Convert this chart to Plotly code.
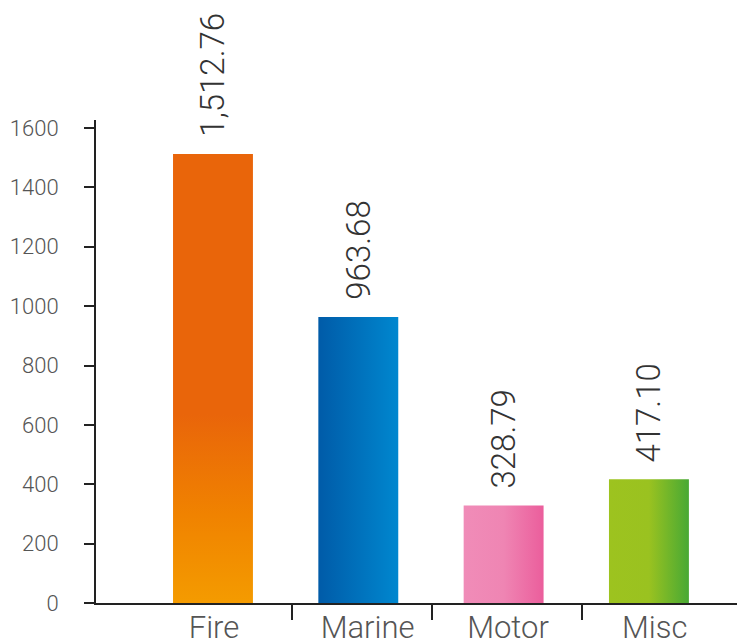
import plotly.graph_objects as go

# Premium by line of business
categories = ["Fire", "Marine", "Motor", "Misc"]
values = [1512.76, 963.68, 328.79, 417.10]
value_labels = ["1,512.76", "963.68", "328.79", "417.10"]
y_ticks = [0, 200, 400, 600, 800, 1000, 1200, 1400, 1600]

# Gradient fills per bar: (direction, colour stops)
gradients = [
    ("vertical", [[0, "#F49B00"], [0.2, "#F08200"], [0.42, "#E9650A"], [1, "#E9650A"]]),
    ("horizontal", [[0, "#005BA8"], [1, "#0087CF"]]),
    ("horizontal", [[0, "#F08CB8"], [0.5, "#EF85B3"], [1, "#EB5E9C"]]),
    ("horizontal", [[0, "#9DC31F"], [0.5, "#9AC220"], [1, "#48A934"]]),
]

BAR_W = 0.55
FONT = "Roboto"
# small horizontal nudges of the category labels, in category units
LABEL_NUDGE = [0.007, 0.064, 0.03, 0.04]
# positions of the separator ticks between categories
SEPARATORS = [0.546, 1.505, 2.538]

fig = go.Figure()
for i, (cat, v, (orient, scale)) in enumerate(zip(categories, values, gradients)):
    x0, x1 = i - BAR_W / 2, i + BAR_W / 2
    fig.add_trace(go.Scatter(
        x=[x0, x1, x1, x0, x0],
        y=[0, 0, v, v, 0],
        mode="lines",
        fill="toself",
        fillgradient=dict(type=orient, colorscale=scale),
        line=dict(width=0),
        name=cat,
        hoveron="fills",
        hoverinfo="name",
    ))
    fig.add_annotation(
        x=i, y=v, text=value_labels[i], textangle=-90,
        showarrow=False, xanchor="center", yanchor="bottom", yshift=15,
        font=dict(family=FONT, size=33, color="#333333", weight=300),
    )

fig.update_layout(
    width=737, height=643,
    margin=dict(l=96, r=0, t=120, b=40, autoexpand=False),
    paper_bgcolor="white", plot_bgcolor="white",
    showlegend=False,
    font=dict(family=FONT, weight=300),
)

fig.update_xaxes(
    range=[-0.805, 3.606],
    tickvals=[i + d for i, d in zip(range(len(categories)), LABEL_NUDGE)],
    ticktext=categories,
    ticks="",
    automargin=False,
    ticklabelstandoff=-4,
    showline=True, linecolor="#222222", linewidth=2,
    showgrid=False, zeroline=False,
    tickfont=dict(family=FONT, size=31, color="#555555", weight=300),
    minor=dict(tickvals=SEPARATORS, ticks="outside", ticklen=15,
               tickwidth=2, tickcolor="#222222", showgrid=False),
)

fig.update_yaxes(
    range=[0, 1627],
    tickvals=y_ticks,
    ticks="outside", ticklen=10, tickwidth=2, tickcolor="#222222",
    automargin=False,
    showline=True, linecolor="#222222", linewidth=2,
    showgrid=False, zeroline=False,
    ticklabelstandoff=21,
    tickfont=dict(family=FONT, size=22, color="#555555", weight=300),
)

fig.write_html("out.html")
